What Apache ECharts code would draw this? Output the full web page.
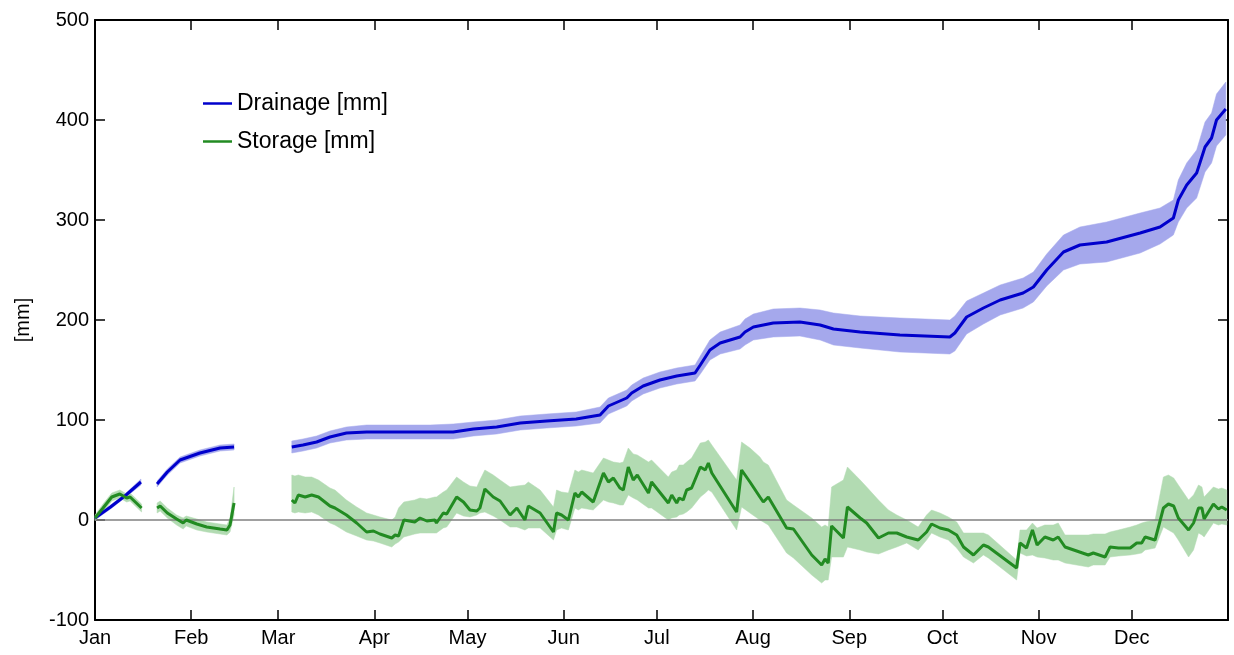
<!DOCTYPE html>
<html>
<head>
<meta charset="utf-8">
<script src="https://cdn.jsdelivr.net/npm/echarts@6/dist/echarts.min.js"></script>
<style>
    html, body { margin: 0; padding: 0; background: #fff; }
    #main { width: 1234px; height: 655px; }
</style>
</head>
<body>
<div id="main"></div>
<script>
    // month starts (day of year) and their labels
    var monthDays = [0, 31, 59, 90, 120, 151, 181, 212, 243, 273, 304, 334];
    var monthNames = ['Jan', 'Feb', 'Mar', 'Apr', 'May', 'Jun', 'Jul', 'Aug', 'Sep', 'Oct', 'Nov', 'Dec'];
    var yTicks = [-100, 0, 100, 200, 300, 400, 500];

    // drainage: day, mean, lower / upper band (null = missing data)
    var drainDay = [0, 5, 10, 14.8, 17, 20, 23.3, 27.4, 33.8, 40.3, 44.8, 52,
        63.4, 67, 71.4, 75.7, 81, 87.5, 97.2, 108, 115.4, 121.9, 129.4, 137, 145.5, 155,
        162.7, 165.4, 171.3, 172.9, 176.6, 182, 187.4, 193.3, 195, 198.1, 201.4, 207.8, 209.4, 212.1,
        218.5, 227.1, 233.6, 237.9, 246.5, 259.3, 275.4, 277, 280.8, 286.2, 291.6, 299, 302.3, 306.6,
        312, 317.3, 325.9, 336.7, 343.1, 347.4, 349, 351.7, 354.9, 357.6, 359.7, 361.3, 364.3];
    var drainMean = [2, 13, 25, 38, null, 36, 48, 60, 67, 72, 73, null,
        73, 75, 78, 83, 87, 88, 88, 88, 88, 91, 93, 97, 99, 101,
        105, 114, 122, 127, 134, 140, 144, 147, 155, 170, 177, 183, 188, 193,
        197, 198, 195, 191, 188, 185, 183, 187, 203, 212, 220, 227, 233, 250,
        268, 275, 278, 287, 293, 302, 320, 335, 347, 373, 382, 400, 411];
    var drainLo = [0, 11, 23, 35, null, 33, 45, 57, 64, 69, 70, null,
        67, 69, 72, 77, 80, 81, 81, 81, 81, 84, 86, 90, 92, 94,
        97, 106, 114, 119, 126, 132, 136, 139, 146, 160, 166, 171, 175, 180,
        183, 184, 180, 175, 172, 168, 166, 169, 186, 196, 205, 212, 218, 234,
        250, 256, 258, 267, 276, 285, 298, 312, 322, 348, 357, 374, 385];
    var drainHi = [4, 15, 27, 41, null, 39, 51, 63, 70, 75, 76, null,
        79, 81, 84, 89, 93, 95, 95, 95, 96, 98, 100, 104, 106, 108,
        113, 122, 130, 135, 142, 148, 152, 155, 164, 180, 188, 195, 201, 206,
        211, 212, 210, 207, 204, 202, 200, 204, 219, 227, 235, 242, 248, 266,
        285, 293, 298, 307, 312, 320, 340, 357, 370, 398, 407, 426, 438];

    // storage: day, mean, lower / upper band
    var storDay = [0, 2.6, 5.4, 8, 10.2, 11.3, 15, 17, 20, 21, 23.3, 26.3, 28.4, 29.4, 32.8, 36, 40.3, 42.5, 43.5, 44.8, 52,
        63.4, 64.4, 65.5, 67.7, 69.8, 72, 75.7, 77.3, 81, 84.3, 87.5, 89.7, 91.8, 95.6, 96.7, 97.8, 99.5,
        103, 104.7, 106.9, 109.5, 110, 112.2, 113.3, 116.5, 118.7, 120.8, 123, 124, 125.6, 128.3, 130.5,
        133.7, 135.9, 138.5, 139.6, 143.4, 147.7, 148.7, 150.3, 152.5, 154.6, 155.7, 156.8, 160.5,
        163.8, 165.4, 167, 169.1, 170.2, 171.8, 173.4, 174.7, 178.3, 179.3, 184.7, 185.8, 187.4, 188.2,
        189.5, 190.6, 192.2, 195, 196.6, 197.6, 198.7, 206.7, 208.3, 211, 214.2, 215.3, 216.9, 222.8,
        225, 230.9, 234.1, 235.2, 236.2, 237.3, 241.1, 242.4, 246.5, 248.6, 252.4, 255.6, 258.3, 261.5,
        265.2, 267.9, 269.5, 272.2, 274.9, 277.6, 279.8, 283, 286.2, 287.8, 296.9, 298, 300.1, 302,
        303.5, 306, 308.7, 310.3, 312.5, 320, 321.6, 325.4, 327, 329.7, 333.5, 335.6, 337.2, 338.3,
        341.5, 344.2, 345.8, 347.5, 349, 352.3, 353.9, 355.5, 356.6, 357.3, 360.3, 361.9, 363, 364.6];
    var storMean = [2, 12, 23, 26, 22, 23, 12, null, 12, 14, 7, 1, -3, 0, -4, -7, -9, -10, -5, 17, null,
        20, 17, 25, 23, 25, 23, 14, 12, 5, -3, -12, -11, -14, -18, -15, -16, 0,
        -2, 2, -1, 0, -3, 7, 6, 23, 18, 10, 9, 12, 31, 23, 19,
        5, 12, 0, 14, 7, -12, 7, 5, 0, 27, 23, 28, 18,
        47, 38, 42, 32, 30, 53, 40, 45, 27, 38, 17, 25, 17, 22,
        20, 30, 32, 53, 50, 57, 47, 8, 50, 38, 23, 18, 23, -8,
        -9, -35, -45, -39, -43, -6, -18, 13, 2, -3, -18, -13, -13, -17,
        -20, -12, -4, -8, -10, -15, -27, -35, -25, -27, -48, -23, -28, -10,
        -25, -17, -20, -17, -27, -35, -33, -37, -27, -28, -28, -23, -23, -17,
        -20, 12, 16, 14, 2, -10, -3, 12, 12, 1, 16, 11, 13, 10];
    var storLo = [-1, 8, 19, 22, 18, 19, 8, null, 7, 9, 2, -5, -9, -6, -10, -12, -14, -15, -12, 5, null,
        8, 7, 8, 7, 8, 5, -3, -5, -12, -16, -20, -21, -23, -27, -24, -22, -17,
        -14, -13, -13, -13, -13, -8, -7, 7, 4, 3, 5, 7, 8, 4, 0,
        -7, -7, -10, -8, -8, -20, -10, -8, -10, 12, 10, 12, 10,
        20, 18, 17, 15, 15, 25, 22, 20, 12, 12, 0, 2, 3, 5,
        6, 8, 12, 23, 27, 30, 28, -10, 13, 7, 0, -2, -5, -33,
        -38, -55, -63, -60, -60, -37, -37, -27, -30, -32, -34, -30, -27, -23,
        -30, -20, -13, -17, -20, -28, -37, -43, -35, -38, -60, -33, -36, -35,
        -37, -38, -40, -40, -43, -47, -45, -45, -37, -36, -35, -34, -33, -30,
        -28, -7, -10, -13, -20, -37, -30, -13, -15, -17, -3, -5, -4, -5];
    var storHi = [5, 16, 27, 30, 26, 27, 16, null, 17, 19, 12, 5, 2, 4, 1, -2, -4, -5, 2, 33, null,
        45, 44, 45, 43, 43, 40, 32, 30, 20, 13, 7, 5, 3, 0, 3, 12, 18,
        20, 22, 21, 23, 23, 28, 30, 43, 38, 34, 33, 40, 50, 45, 40,
        33, 34, 35, 38, 30, 13, 30, 28, 27, 50, 48, 50, 47,
        62, 60, 58, 57, 58, 72, 66, 65, 58, 60, 43, 48, 50, 55,
        55, 58, 62, 77, 78, 80, 75, 40, 78, 72, 63, 58, 55, 20,
        15, 2, -7, -5, -7, 33, 40, 53, 40, 33, 20, 10, 5, 0,
        -7, 5, 10, 7, 3, -2, -13, -13, -13, -15, -40, -10, -10, -3,
        -8, -5, -5, -3, -15, -15, -14, -14, -12, -10, -7, -5, -3, -2,
        0, 43, 45, 42, 35, 20, 25, 35, 33, 23, 33, 31, 32, 30];

    var font = '"Liberation Sans", Arial, sans-serif';

    function pairs(days, vals) {
        return days.map(function (d, i) { return [d, vals[i]]; });
    }

    // shaded band: one polygon per run of non-missing points, placed with api.coord
    function bandSeries(days, lo, hi, color) {
        return {
            type: 'custom', silent: true, z: 1,
            data: days.map(function (d, i) { return [d, lo[i], hi[i]]; }),
            encode: { x: 0, y: [1, 2] },
            renderItem: function (params, api) {
                if (params.dataIndex !== 0) return null;
                var runs = [], cur = [];
                for (var i = 0; i < days.length; i++) {
                    if (lo[i] == null) { if (cur.length) runs.push(cur); cur = []; }
                    else cur.push(i);
                }
                if (cur.length) runs.push(cur);
                var children = runs.map(function (run) {
                    var top = run.map(function (k) { return api.coord([days[k], hi[k]]); });
                    var bottom = run.slice().reverse().map(function (k) { return api.coord([days[k], lo[k]]); });
                    return {
                        type: 'polygon',
                        shape: { points: top.concat(bottom) },
                        style: { fill: color, stroke: color, lineWidth: 0.5 }
                    };
                });
                return { type: 'group', children: children };
            }
        };
    }

    var chart = echarts.init(document.getElementById('main'));
    var axisLineStyle = { color: '#000', width: 2 };
    var tickStyle = { color: '#000', width: 1.5 };

    var series = [
        bandSeries(drainDay, drainLo, drainHi, '#a5a8ec'),
        bandSeries(storDay, storLo, storHi, '#b2dbb2'),
        {
            name: 'Drainage [mm]', type: 'line', symbol: 'none', silent: true,
            lineStyle: { color: '#0000cc', width: 3 }, itemStyle: { color: '#0000cc' },
            data: pairs(drainDay, drainMean), z: 4,
            markLine: {
                silent: true, symbol: 'none', label: { show: false },
                lineStyle: { color: '#808080', width: 1.5, type: 'solid' },
                data: [{ yAxis: 0 }]
            }
        }, {
            name: 'Storage [mm]', type: 'line', symbol: 'none', silent: true,
            lineStyle: { color: '#228b22', width: 3 }, itemStyle: { color: '#228b22' },
            data: pairs(storDay, storMean), z: 5
        }
    ];

    var option = {
        animation: false,
        backgroundColor: '#fff',
        grid: { left: 95, right: 6, top: 20, bottom: 35, outerBoundsMode: 'none' },
        legend: {
            data: ['Drainage [mm]', 'Storage [mm]'],
            orient: 'vertical', left: 198, top: 87,
            icon: 'rect', itemWidth: 29, itemHeight: 2.5, itemGap: 15,
            textStyle: { fontFamily: font, fontSize: 23, color: '#000' }
        },
        xAxis: [{
            type: 'value', min: 0, max: 365, position: 'bottom',
            axisLine: { show: true, onZero: false, lineStyle: axisLineStyle },
            axisTick: { show: true, inside: true, length: 10, customValues: monthDays, lineStyle: tickStyle },
            axisLabel: {
                customValues: monthDays, margin: 8,
                fontFamily: font, fontSize: 20, color: '#000',
                formatter: function (v) { return monthNames[monthDays.indexOf(v)]; }
            },
            splitLine: { show: false }
        }, {
            type: 'value', min: 0, max: 365, position: 'top',
            axisLine: { show: true, onZero: false, lineStyle: axisLineStyle },
            axisTick: { show: true, inside: true, length: 10, customValues: monthDays, lineStyle: tickStyle },
            axisLabel: { show: false },
            splitLine: { show: false }
        }],
        yAxis: [{
            type: 'value', min: -100, max: 500, interval: 100, position: 'left',
            name: '[mm]', nameLocation: 'middle', nameGap: 62, nameRotate: 90,
            nameTextStyle: { fontFamily: font, fontSize: 20, color: '#000' },
            axisLine: { show: true, onZero: false, lineStyle: axisLineStyle },
            axisTick: { show: true, inside: true, length: 10, lineStyle: tickStyle },
            axisLabel: {
                customValues: yTicks, margin: 6,
                fontFamily: font, fontSize: 20, color: '#000'
            },
            splitLine: { show: false }
        }, {
            type: 'value', min: -100, max: 500, interval: 100, position: 'right',
            axisLine: { show: true, onZero: false, lineStyle: axisLineStyle },
            axisTick: { show: true, inside: true, length: 10, lineStyle: tickStyle },
            axisLabel: { show: false },
            splitLine: { show: false }
        }],
        series: series
    };

    chart.setOption(option);
</script>
</body>
</html>
